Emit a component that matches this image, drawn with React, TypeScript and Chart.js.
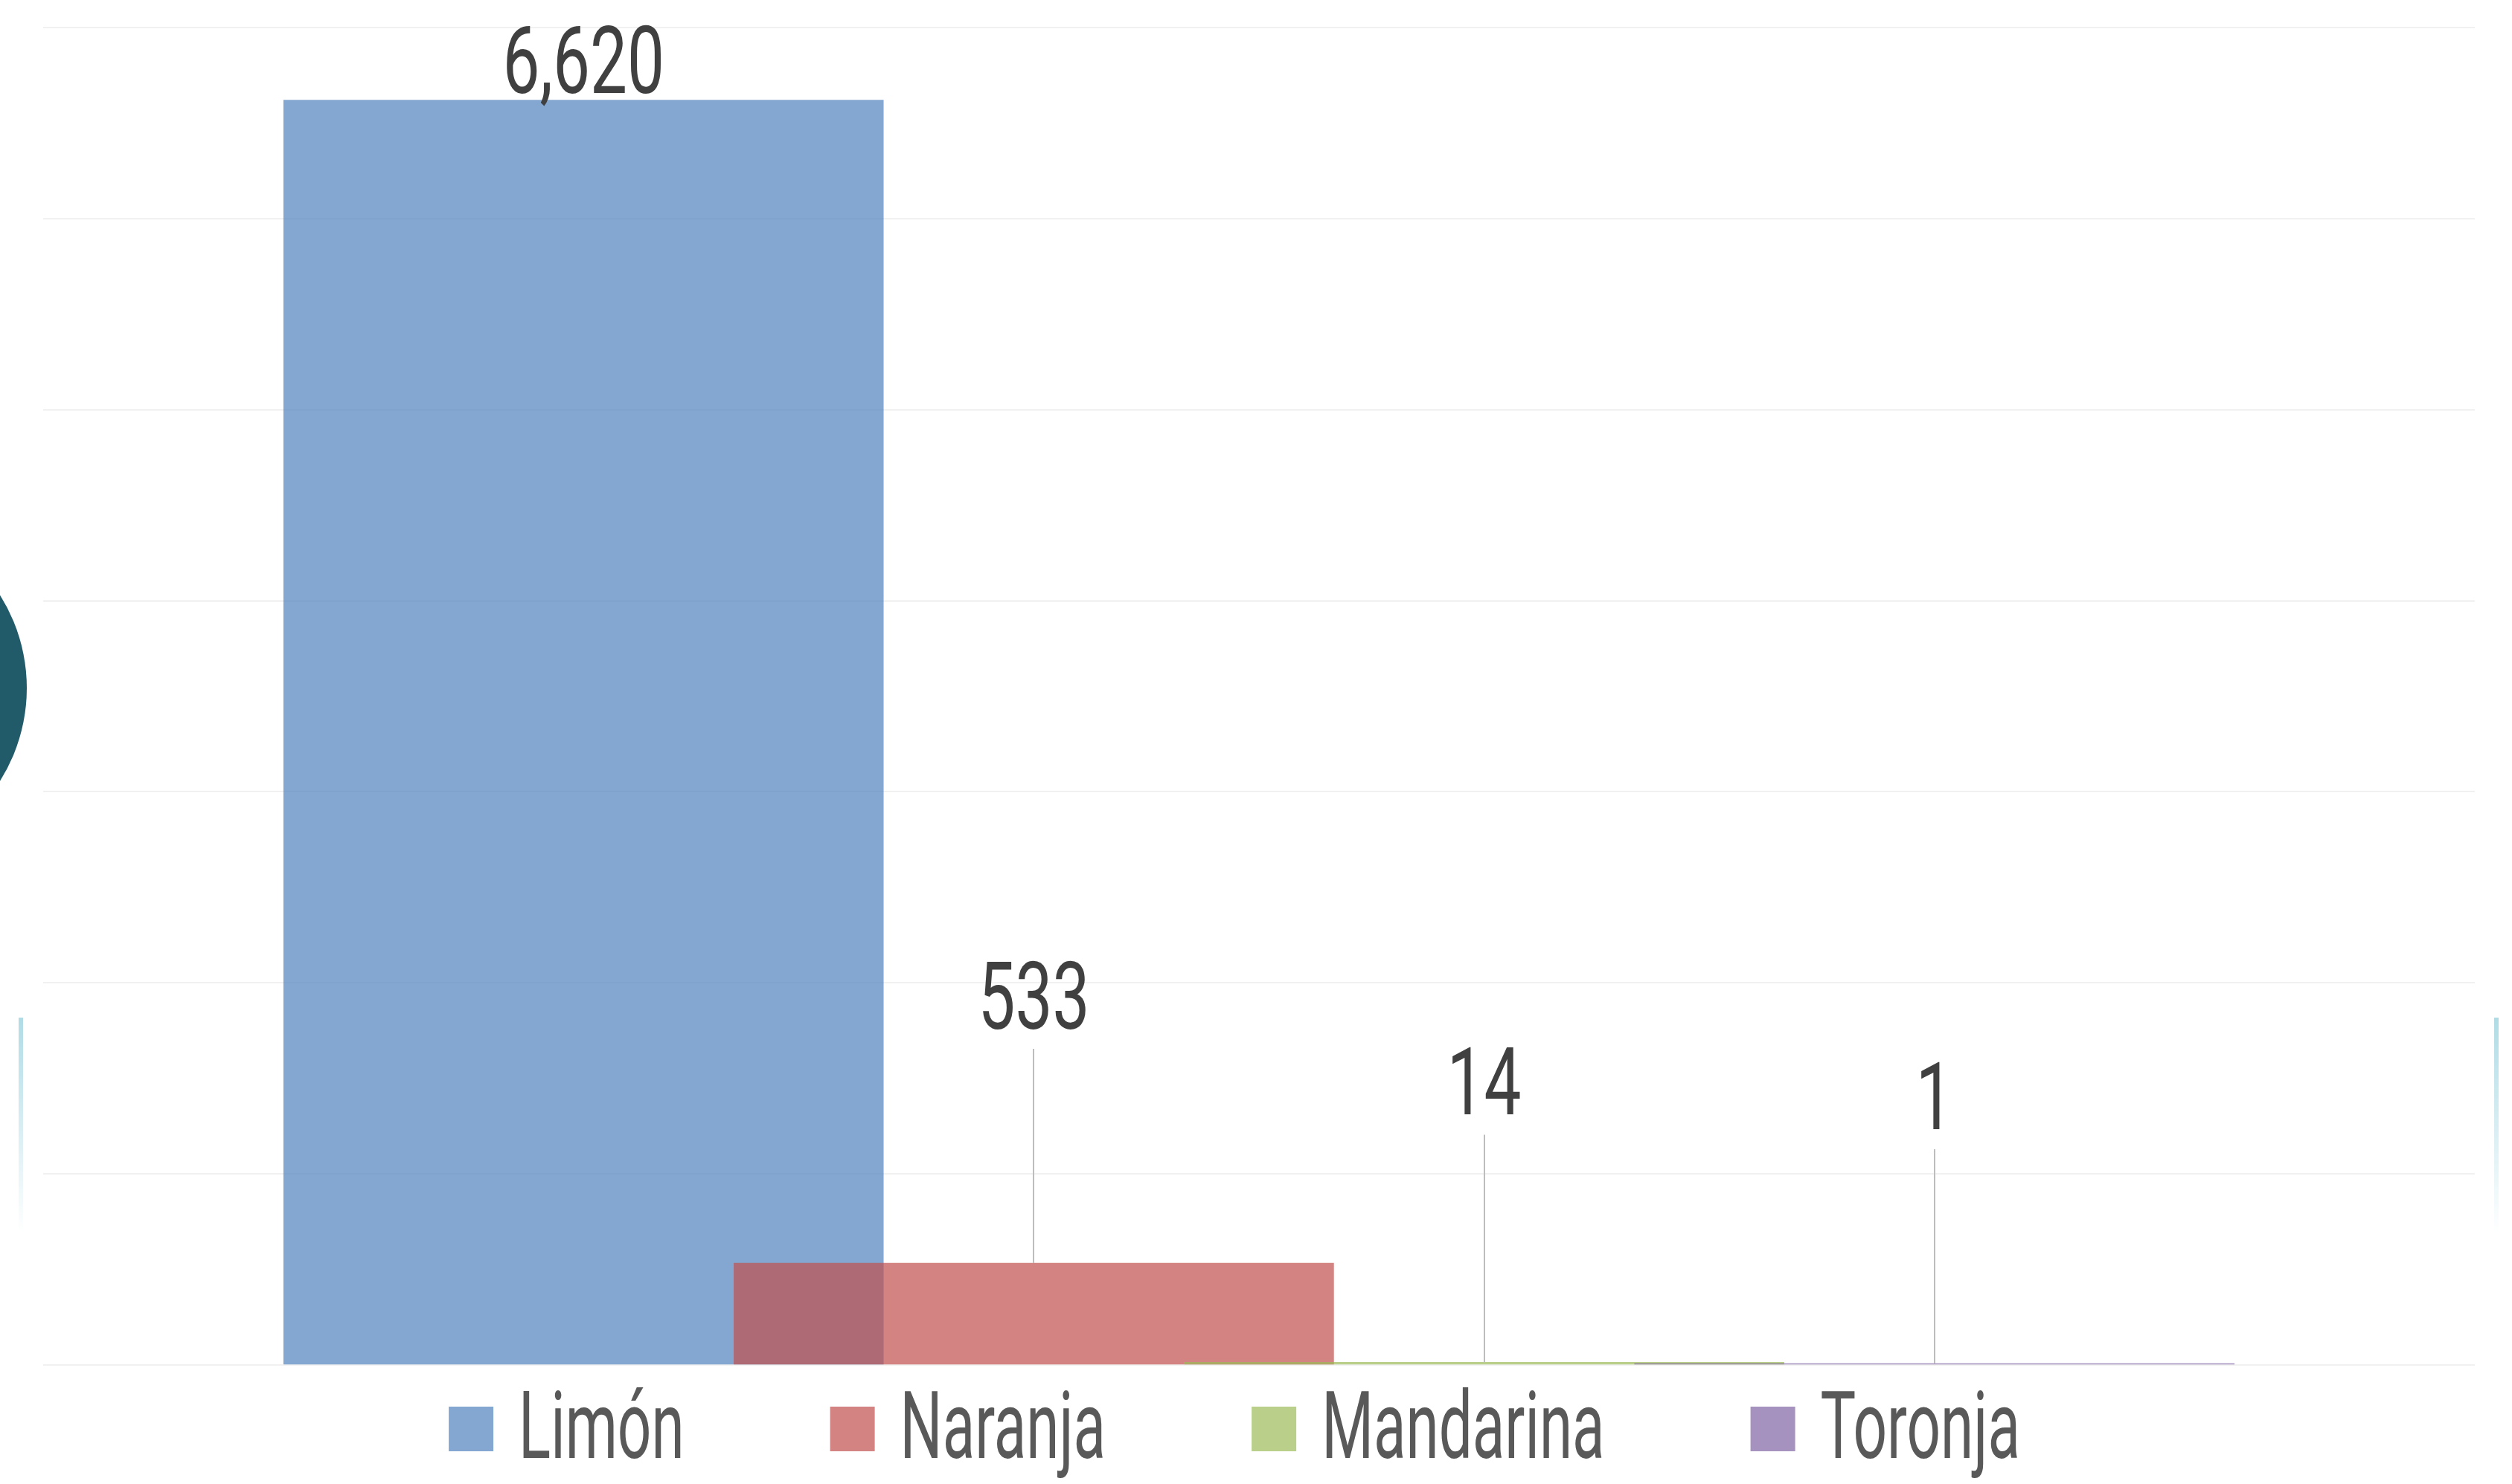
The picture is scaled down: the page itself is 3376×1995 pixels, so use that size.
import React, { useEffect, useRef } from 'react';
import { Chart, registerables } from 'chart.js';

Chart.register(...registerables);

// ---- data ----
const categories = ['Limón', 'Naranja', 'Mandarina', 'Toronja'];
const values = [6620, 533, 14, 1];
const yMin = 0;
const yMax = 7000;
const yStep = 1000;

// ---- styles / layout ----
const baseColors = ['79,129,189', '192,80,77', '155,187,89', '128,100,162'];
const barAlpha = 0.7;
const labelGaps = [10, 315, 333, 315]; // gap between bar top and label baseline (px)
const TEXT_SX = 0.63;
const LABEL_SX = 0.7;
const FONT = '400 127px Roboto, "Liberation Sans", sans-serif';
const W = 3376;
const H = 1995;
const LEGEND_CENTER = 1659;
const LEGEND_BOX_TOP = 1891;
const LEGEND_BASELINE = 1960;

const fmt = (v: number) => v.toLocaleString('en-US');

const labelPlugin = {
  id: 'valueLabels',
  afterDatasetsDraw(chart: any) {
    const ctx = chart.ctx as CanvasRenderingContext2D;
    chart.data.datasets.forEach((ds: any, i: number) => {
      const meta = chart.getDatasetMeta(i);
      const bar = meta.data[0];
      if (!bar) return;
      const { x, y } = bar.getProps(['x', 'y'], true);
      const gap = labelGaps[i];
      const baseline = y - gap;
      if (gap > 60) {
        ctx.save();
        ctx.strokeStyle = '#bdbdbd';
        ctx.lineWidth = 2;
        ctx.beginPath();
        const lx = Math.round(x);
        ctx.moveTo(lx, baseline + 27);
        ctx.lineTo(lx, y);
        ctx.stroke();
        ctx.restore();
      }
      ctx.save();
      ctx.font = FONT;
      ctx.fillStyle = '#404040';
      ctx.textAlign = 'center';
      ctx.textBaseline = 'alphabetic';
      ctx.translate(x, baseline);
      ctx.scale(LABEL_SX, 1);
      ctx.fillText(fmt(values[i]), 0, 0);
      ctx.restore();
    });
  },
};

const legendPlugin = {
  id: 'customLegend',
  afterDraw(chart: any) {
    const ctx = chart.ctx as CanvasRenderingContext2D;
    ctx.save();
    ctx.font = FONT;
    const box = 60;
    const boxGap = 34;
    const itemGap = 196;
    const widths = categories.map((c) => ctx.measureText(c).width * TEXT_SX);
    const total =
      widths.reduce((a, w) => a + box + boxGap + w, 0) + itemGap * (categories.length - 1);
    let x = LEGEND_CENTER - total / 2;
    categories.forEach((c, i) => {
      ctx.fillStyle = `rgba(${baseColors[i]},${barAlpha})`;
      ctx.fillRect(x, LEGEND_BOX_TOP, box, box);
      x += box + boxGap;
      ctx.save();
      ctx.translate(x, LEGEND_BASELINE);
      ctx.scale(TEXT_SX, 1);
      ctx.fillStyle = '#595959';
      ctx.textAlign = 'left';
      ctx.textBaseline = 'alphabetic';
      ctx.fillText(c, 0, 0);
      ctx.restore();
      x += widths[i] + itemGap;
    });
    ctx.restore();
  },
};

export default function App() {
  const ref = useRef<HTMLCanvasElement | null>(null);

  useEffect(() => {
    if (!ref.current) return;
    const chart = new Chart(ref.current, {
      type: 'bar',
      data: {
        datasets: categories.map((c, i) => ({
          label: c,
          data: [{ x: i, y: values[i] }],
          backgroundColor: `rgba(${baseColors[i]},${barAlpha})`,
          borderWidth: 0,
          order: categories.length - i,
          grouped: false,
          barThickness: 806,
          minBarLength: 2,
        })),
      },
      options: {
        animation: false,
        responsive: false,
        maintainAspectRatio: false,
        layout: { padding: { left: 58, right: 50, top: 37, bottom: 160 } },
        plugins: {
          legend: { display: false },
          tooltip: { enabled: false },
        },
        scales: {
          x: {
            type: 'linear',
            min: -1.2,
            max: 4.2,
            offset: false,
            display: false,
          },
          y: {
            min: yMin,
            max: yMax,
            ticks: { display: false, stepSize: yStep },
            grid: { color: '#f1f1f1', lineWidth: 2, drawTicks: false },
            border: { display: false },
          },
        },
      } as any,
      plugins: [labelPlugin, legendPlugin],
    });
    return () => chart.destroy();
  }, []);

  return (
    <div
      style={{
        position: 'absolute',
        left: 0,
        top: 0,
        width: W,
        height: H,
        overflow: 'hidden',
        background: '#ffffff',
      }}
    >
      <div
        style={{
          position: 'absolute',
          left: -434,
          top: 690,
          width: 470,
          height: 470,
          borderRadius: '50%',
          background: '#215a69',
        }}
      />
      <div
        style={{
          position: 'absolute',
          left: 25,
          top: 1368,
          width: 6,
          height: 290,
          background: 'linear-gradient(to bottom, #b0dce6, rgba(255,255,255,0))',
        }}
      />
      <div
        style={{
          position: 'absolute',
          left: 3352,
          top: 1368,
          width: 6,
          height: 290,
          background: 'linear-gradient(to bottom, #b0dce6, rgba(255,255,255,0))',
        }}
      />
      <canvas
        ref={ref}
        width={W}
        height={H}
        style={{ position: 'absolute', left: 0, top: 0, width: W, height: H }}
      />
    </div>
  );
}
